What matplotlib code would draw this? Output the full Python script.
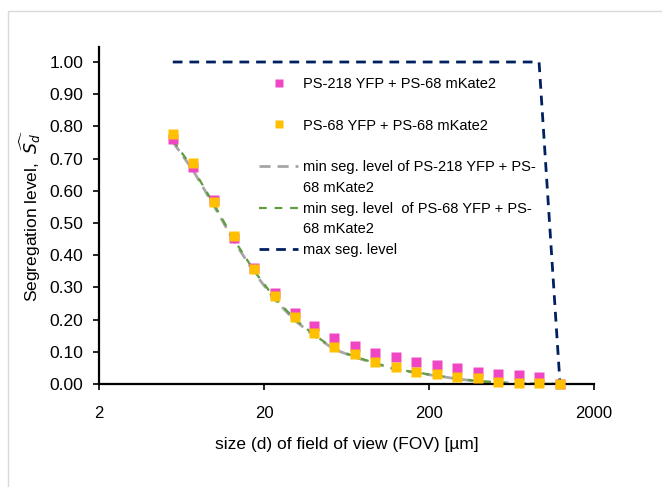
import matplotlib
matplotlib.use("Agg")
import matplotlib.pyplot as plt
from matplotlib.lines import Line2D
from matplotlib.patches import Rectangle

plt.rcParams['font.family'] = ['Liberation Sans', 'DejaVu Sans']
plt.rcParams['mathtext.fontset'] = 'dejavusans'

fov_um = [5.6, 7.4, 9.9, 13.1, 17.5, 23.3, 30.8, 40.2, 53.1, 71.2,
          94.2, 126, 167, 224, 296, 396, 524, 702, 929, 1245]
seg_ps218 = [0.762, 0.675, 0.571, 0.454, 0.361, 0.284, 0.221, 0.180, 0.144, 0.118,
             0.097, 0.083, 0.068, 0.059, 0.049, 0.038, 0.032, 0.027, 0.023, 0.0]
seg_ps68 = [0.776, 0.685, 0.566, 0.460, 0.356, 0.274, 0.207, 0.157, 0.116, 0.092,
            0.069, 0.054, 0.038, 0.030, 0.023, 0.018, 0.007, 0.004, 0.004, 0.0]
min_ps218 = [0.752, 0.665, 0.555, 0.445, 0.345, 0.262, 0.197, 0.150, 0.108, 0.083,
             0.064, 0.045, 0.035, 0.025, 0.016, 0.008, 0.005, 0.002, 0.001, 0.0]
min_ps68 = [0.758, 0.670, 0.560, 0.450, 0.350, 0.266, 0.201, 0.153, 0.110, 0.085,
            0.065, 0.046, 0.036, 0.026, 0.017, 0.009, 0.005, 0.002, 0.001, 0.0]
max_seg = [1.0, 1.0, 1.0, 1.0, 1.0, 1.0, 1.0, 1.0, 1.0, 1.0,
           1.0, 1.0, 1.0, 1.0, 1.0, 1.0, 1.0, 1.0, 1.0, 0.0]

x_ticks = [2, 20, 200, 2000]
x_ticklabels = ['2', '20', '200', '2000']
y_ticks = [0.0, 0.1, 0.2, 0.3, 0.4, 0.5, 0.6, 0.7, 0.8, 0.9, 1.0]

labels = ['PS-218 YFP + PS-68 mKate2',
          'PS-68 YFP + PS-68 mKate2',
          'min seg. level of PS-218 YFP + PS-\n68 mKate2',
          'min seg. level  of PS-68 YFP + PS-\n68 mKate2',
          'max seg. level']

W, H = 662, 487
fig = plt.figure(figsize=(W / 100, H / 100), dpi=100)
fig.patches.append(Rectangle((8 / W, -0.1), 1.2, 1 - 11 / H + 0.1, transform=fig.transFigure,
                             fill=False, edgecolor='#d9d9d9', linewidth=1.0))
ax = fig.add_axes([99 / W, 1 - 384 / H, (594 - 99) / W, (384 - 47) / H])

pink = '#F046C4'
gold = '#FFC000'
grey = '#A6A6A6'
green = '#5E9E3E'
navy = '#002060'

l_grey, = ax.plot(fov_um, min_ps218, color=grey, lw=2.0, dashes=(4, 2.5), zorder=2)
l_green, = ax.plot(fov_um, min_ps68, color=green, lw=1.6, dashes=(3.5, 3.5), zorder=2)
l_navy, = ax.plot(fov_um, max_seg, color=navy, lw=2.0, dashes=(3.5, 2.5), zorder=2)
m_pink, = ax.plot(fov_um, seg_ps218, 's', color=pink, ms=7.5, mec='none', zorder=3, clip_on=False)
m_gold, = ax.plot(fov_um, seg_ps68, 's', color=gold, ms=7.5, mec='none', zorder=4, clip_on=False)

ax.set_xscale('log')
ax.set_xlim(2, 2000)
ax.set_ylim(0, 1.0466)
ax.set_xticks(x_ticks)
ax.set_xticklabels(x_ticklabels)
ax.xaxis.set_minor_locator(matplotlib.ticker.NullLocator())
ax.set_yticks(y_ticks)
ax.set_yticklabels([f'{v:.2f}' for v in y_ticks])
ax.tick_params(axis='both', direction='out', length=4, width=1.2, color='black')
ax.tick_params(axis='y', labelsize=12.5, pad=7.5)
ax.tick_params(axis='x', labelsize=12, pad=11.5)
for s in ['top', 'right']:
    ax.spines[s].set_visible(False)
for s in ['left', 'bottom']:
    ax.spines[s].set_linewidth(1.6)
ax.set_xlabel('size (d) of field of view (FOV) [µm]', fontsize=12.5, labelpad=12)
ax.set_ylabel(r'Segregation level,  $\widehat{S_d}$', fontsize=12.5, labelpad=4.5)

first_lines = [lab.split('\n') for lab in labels]
blank = Line2D([], [], linestyle='none')
handles = []
leg_labels = []
for i, (h, parts) in enumerate(zip([m_pink, m_gold, l_grey, l_green, l_navy], first_lines)):
    handles.append(h)
    leg_labels.append(parts[0])
    for extra in parts[1:]:
        handles.append(blank)
        leg_labels.append(extra)
    if i < 2:
        handles.append(blank)
        leg_labels.append(' ')

leg = ax.legend(handles, leg_labels, loc='upper left',
                bbox_to_anchor=(259 / W, 1 - 77 / H), bbox_transform=fig.transFigure,
                frameon=False, fontsize=10.5, labelspacing=0.465, handlelength=2.7,
                handletextpad=0.3, borderpad=0, borderaxespad=0, markerscale=0.75)

fig.savefig('out.png', dpi=100)
